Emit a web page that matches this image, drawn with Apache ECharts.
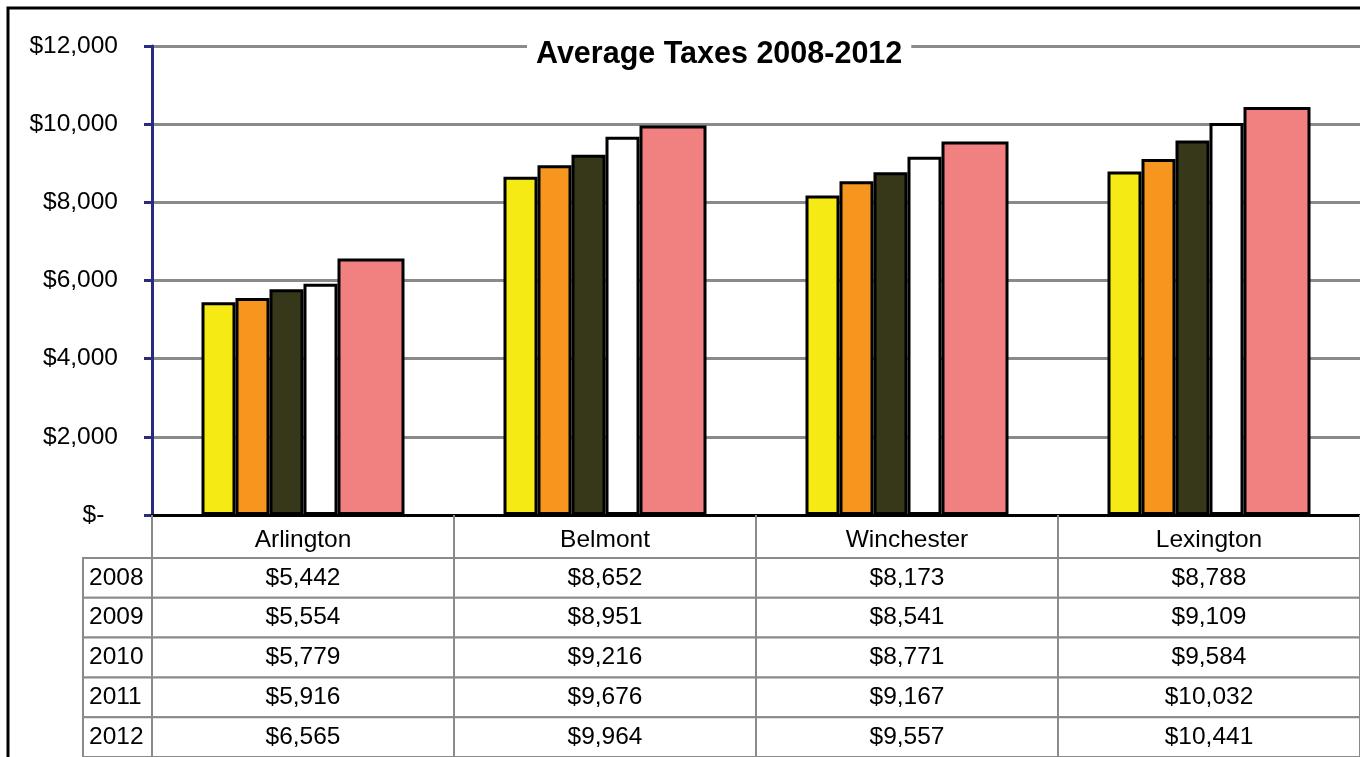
<!DOCTYPE html>
<html>
<head>
<meta charset="utf-8">
<script src="https://cdn.jsdelivr.net/npm/echarts@6/dist/echarts.min.js"></script>
<style>
html, body { margin: 0; padding: 0; background: #fff; }
#taxChart { width: 1360px; height: 757px; }
</style>
</head>
<body>
<div id="taxChart"></div>
<script>
// towns and years
var towns = ['Arlington', 'Belmont', 'Winchester', 'Lexington'];
var years = ['2008', '2009', '2010', '2011', '2012'];
// average tax per town, one array per year
var tax2008 = [5442, 8652, 8173, 8788];
var tax2009 = [5554, 8951, 8541, 9109];
var tax2010 = [5779, 9216, 8771, 9584];
var tax2011 = [5916, 9676, 9167, 10032];
var tax2012 = [6565, 9964, 9557, 10441];
// value axis
var axisMin = 0;
var axisMax = 12000;
var axisStep = 2000;

var allTax = [tax2008, tax2009, tax2010, tax2011, tax2012];
var barColors = ['#f5ea14', '#f7961e', '#37371a', '#ffffff', '#f18080'];
var barWidths = [34, 34, 34, 34, 67];
var fontName = '"Liberation Sans", Arial, sans-serif';
var fontSz = 24.5;

function money(v) {
	if (v == 0) {
		return '$-  ';
	}
	return '$' + v.toLocaleString('en-US');
}

// table cells: [town index, year index, value]
var cellData = [];
var yearData = [];
for (var i = 0; i < years.length; i++) {
	for (var j = 0; j < towns.length; j++) {
		cellData.push([j, i, allTax[i][j]]);
	}
	yearData.push([0, i]);
}

function cellRender(alignLeft) {
	return function(params, api) {
		var c = api.coord([api.value(0), api.value(1)]);
		var s = api.size([1, 1]);
		var txt = alignLeft ? years[api.value(1)] : money(api.value(2));
		return {
			type : 'rect',
			shape : { x : c[0] - s[0] / 2, y : c[1] - s[1] / 2, width : s[0], height : s[1] },
			style : { fill : '#fff', stroke : '#8a8a8a', lineWidth : 2 },
			textContent : {
				style : { text : txt, fill : '#000', fontSize : fontSz, fontFamily : fontName, padding : [3, 0, 0, 0] }
			},
			textConfig : alignLeft ? { position : 'insideLeft', distance : 7 } : { position : 'inside' }
		};
	};
}

var barSeries = [];
for (var k = 0; k < years.length; k++) {
	barSeries.push({
		name : years[k],
		type : 'bar',
		xAxisIndex : 0,
		yAxisIndex : 0,
		data : allTax[k],
		barWidth : barWidths[k],
		barGap : '0%',
		itemStyle : { color : barColors[k], borderColor : '#000', borderWidth : 3 },
		emphasis : { disabled : true },
		z : 3
	});
}

var chart = echarts.init(document.getElementById('taxChart'));
var option = {
	animation : false,
	textStyle : { fontFamily : fontName },
	title : {
		text : 'Average Taxes 2008-2012',
		left : 527,
		top : 40,
		padding : [0, 9],
		backgroundColor : '#fff',
		textStyle : { fontSize : 30.5, fontWeight : 'bold', color : '#000', fontFamily : fontName, lineHeight : 30 },
		z : 10
	},
	graphic : [{
		type : 'rect',
		shape : { x : 8, y : 8, width : 1400, height : 800 },
		style : { fill : 'none', stroke : '#000', lineWidth : 3 },
		z : 0
	}],
	grid : [
		{ left : 152, right : 0, top : 46, bottom : 242 },
		{ left : 152, right : 0, top : 558, height : 203 },
		{ left : 83, width : 69, top : 558, height : 203 }
	],
	xAxis : [{
		type : 'category',
		gridIndex : 0,
		data : towns,
		axisLine : { lineStyle : { color : '#000', width : 3 } },
		axisTick : { show : true, length : 43, lineStyle : { color : '#8a8a8a', width : 2 } },
		axisLabel : { margin : 13, fontSize : fontSz, color : '#000', fontFamily : fontName },
		splitLine : { show : false },
		z : 4
	}, {
		type : 'category',
		gridIndex : 1,
		data : towns,
		show : false
	}, {
		type : 'category',
		gridIndex : 2,
		data : ['year'],
		show : false
	}],
	yAxis : [{
		type : 'value',
		gridIndex : 0,
		min : axisMin,
		max : axisMax,
		interval : axisStep,
		axisLine : { show : true, lineStyle : { color : '#2a2a80', width : 3 } },
		axisTick : { show : true, length : 8, lineStyle : { color : '#2a2a80', width : 3 } },
		axisLabel : { margin : 34, fontSize : fontSz, color : '#000', fontFamily : fontName, formatter : money, padding : [3, 0, 0, 0] },
		splitLine : { show : true, lineStyle : { color : '#8a8a8a', width : 3 } }
	}, {
		type : 'category',
		gridIndex : 1,
		data : years,
		inverse : true,
		show : false
	}, {
		type : 'category',
		gridIndex : 2,
		data : years,
		inverse : true,
		show : false
	}],
	series : barSeries.concat([{
		type : 'custom',
		xAxisIndex : 1,
		yAxisIndex : 1,
		data : cellData,
		renderItem : cellRender(false),
		silent : true
	}, {
		type : 'custom',
		xAxisIndex : 2,
		yAxisIndex : 2,
		data : yearData,
		renderItem : cellRender(true),
		silent : true
	}])
};
chart.setOption(option);
</script>
</body>
</html>
